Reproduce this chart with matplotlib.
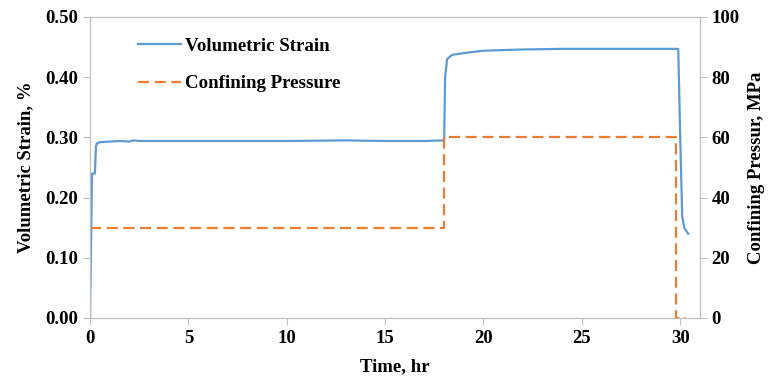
import matplotlib.pyplot as plt

plt.rcParams['font.family'] = ['Liberation Serif', 'DejaVu Serif']
plt.rcParams['font.weight'] = 'bold'

# Volumetric strain (%) vs time (hr)
strain_t = [0, 0.05, 0.1, 0.15, 0.25, 0.3, 0.35, 0.5, 1.0, 1.5, 2.0, 2.2, 2.5,
            5, 10, 13, 15, 17, 18.0, 18.05, 18.15, 18.4, 19, 20, 22, 24, 26, 28,
            29.9, 30.0, 30.1, 30.2, 30.4]
strain = [0, 0.12, 0.24, 0.24, 0.24, 0.285, 0.29, 0.292, 0.293, 0.294, 0.293, 0.295, 0.294,
          0.294, 0.294, 0.295, 0.294, 0.294, 0.295, 0.40, 0.43, 0.437, 0.44, 0.444, 0.446, 0.447,
          0.447, 0.447, 0.447, 0.30, 0.17, 0.15, 0.14]

# Confining pressure (MPa) vs time (hr)
press_t = [0, 18.0, 18.0, 29.8, 29.8, 30.3]
press = [30, 30, 60, 60, 0, 0]

blue = '#5B9BD5'
orange = '#ED7D31'
grey = '#BFBFBF'

fig = plt.figure(figsize=(7.72, 3.77), dpi=100)
ax1 = fig.add_axes([0.1166, 0.1565, 0.79, 0.7985])
ax2 = ax1.twinx()

l1, = ax1.plot(strain_t, strain, color=blue, lw=1.6, label='Volumetric Strain')
l2, = ax2.plot(press_t, press, color=orange, lw=1.6, dashes=(5, 2.5), label='Confining Pressure')

ax1.set_xlim(0, 31)
ax1.set_ylim(0, 0.5)
ax2.set_ylim(0, 100)
ax1.set_xticks([0, 5, 10, 15, 20, 25, 30])
ax1.set_yticks([0, 0.1, 0.2, 0.3, 0.4, 0.5])
ax1.set_yticklabels(['%.2f' % v for v in [0, 0.1, 0.2, 0.3, 0.4, 0.5]])
ax2.set_yticks([0, 20, 40, 60, 80, 100])

for ax in (ax1, ax2):
    for s in ax.spines.values():
        s.set_color(grey)
    ax.tick_params(colors=grey, labelcolor='black', labelsize=13.5, length=5)
    for lab in ax.get_xticklabels() + ax.get_yticklabels():
        lab.set_fontweight('bold')

ax1.set_xlabel('Time, hr', fontsize=13.5, fontweight='bold', labelpad=8)
ax1.set_ylabel('Volumetric Strain, %', fontsize=13.5, fontweight='bold', labelpad=8)
ax2.set_ylabel('Confining Pressur, MPa', fontsize=13.5, fontweight='bold', labelpad=6)

ax1.legend([l1, l2], ['Volumetric Strain', 'Confining Pressure'], loc='upper left',
           bbox_to_anchor=(0.079, 0.932), frameon=False, borderpad=0, borderaxespad=0,
           handlelength=2.25, handletextpad=0.25, labelspacing=1.08,
           prop={'weight': 'bold', 'size': 13.6})

fig.savefig('out.png', dpi=100)
